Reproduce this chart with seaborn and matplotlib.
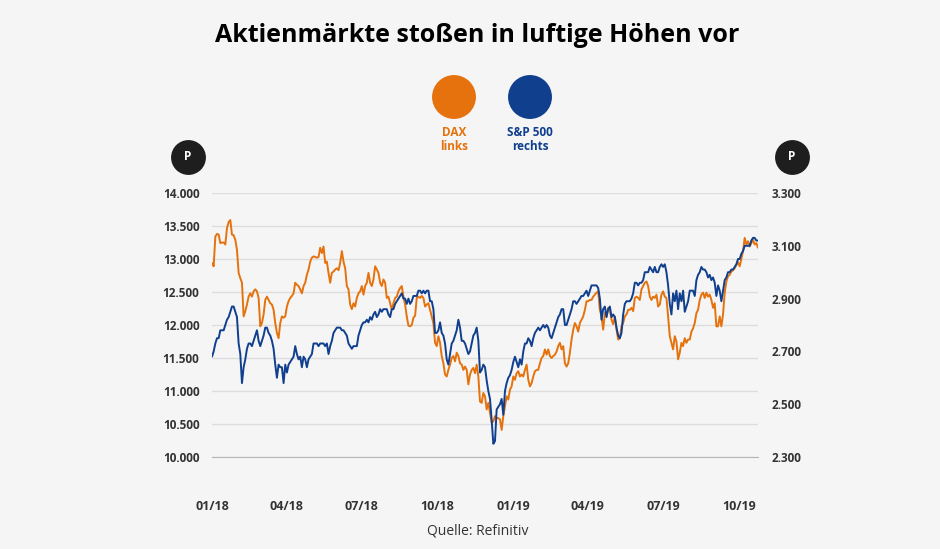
import pandas as pd
import matplotlib
matplotlib.use('Agg')
import matplotlib.pyplot as plt
import matplotlib.dates as mdates
from matplotlib.ticker import FuncFormatter
import seaborn as sns

# DAX (left axis) at roughly 2-day steps
dax = [
    12940, 12890, 13340, 13380, 13370, 13240, 13250, 13250, 13220, 13470,
    13560, 13590, 13370, 13360, 13290, 13140, 12790, 12710, 12640, 12130,
    12210, 12310, 12430, 12480, 12430, 12510, 12540, 12510, 12410, 11980,
    12030, 12160, 12380, 12430, 12380, 12330, 12310, 12230, 12030, 11880,
    11800, 12030, 12130, 12110, 12130, 12280, 12360, 12410, 12440, 12480,
    12640, 12610, 12590, 12540, 12480, 12590, 12640, 12760, 12840, 12960,
    13020, 13040, 13030, 13020,
    13030, 13170, 13090, 13190, 12940, 12960, 12790, 12640, 12790, 12810,
    12840, 12860, 12830, 12940, 13120, 12960, 12860, 12590, 12540, 12310,
    12240, 12330, 12280, 12410, 12480, 12510, 12590, 12460, 12590, 12640,
    12790, 12640, 12590, 12690, 12890, 12840, 12790, 12640, 12590, 12690,
    12640, 12410, 12430, 12330, 12230, 12330, 12410, 12430, 12510, 12560,
    12590, 12430, 12310, 12130, 11990, 11980, 12000, 12110, 12140, 12410,
    12430, 12410, 12440, 12410, 12280, 12310,
    12330, 12230, 12130, 12030, 11730, 11680, 11830, 11730, 11530, 11420,
    11250, 11220, 11320, 11400, 11500, 11530, 11450, 11580, 11530, 11420,
    11400, 11320, 11370, 11320, 11100, 11250, 11320, 11350, 11270, 11400,
    11220, 10840, 10820, 10970, 10920, 10720, 10820, 10670, 10520, 10540,
    10620, 10590, 10590, 10570, 10410, 10620, 10770, 10920, 10870, 11020,
    11070, 11220, 11170, 11270, 11300, 11220, 11250, 11220, 11320, 11400,
    11170, 11070, 11120, 11220, 11300, 11320,
    11320, 11420, 11500, 11530, 11630, 11550, 11630, 11530, 11500, 11530,
    11550, 11600, 11680, 11730, 11630, 11680, 11420, 11370, 11420, 11580,
    11780, 11930, 12030, 11980, 11900, 12030, 12080, 12130, 12230, 12360,
    12360, 12380, 12380, 12430, 12460, 12490, 12510, 12230, 12130, 11930,
    12180, 12130, 12260, 12230, 12080, 12010, 12130, 11930, 11780, 11800,
    11980, 12030, 12130, 12160, 12230, 12230, 12260, 12210, 12410, 12430,
    12410, 12380, 12540, 12590, 12640, 12660,
    12590, 12430, 12380, 12430, 12410, 12460, 12280, 12310, 12460, 12510,
    12430, 12410, 12130, 11830, 11730, 11630, 11830, 11750, 11480, 11580,
    11730, 11680, 11800, 11730, 11780, 11780, 11900, 11950, 12030, 12180,
    12230, 12380, 12460, 12490, 12410, 12490, 12430, 12460, 12380, 12260,
    12330, 11980, 11980, 12130, 11980, 12160, 12490, 12660, 12740, 12760,
    12810, 12830, 12860, 12910, 12950, 12890, 13000, 13120, 13320, 13220,
    13270, 13190, 13240, 13290, 13220, 13240, 13170,
]

# S&P 500 (right axis), same sampling
spx = [
    2680, 2700, 2730, 2750, 2750, 2780, 2780, 2780, 2800, 2820,
    2830, 2850, 2870, 2870, 2850, 2830, 2730, 2690, 2580, 2640,
    2670, 2710, 2730, 2730, 2720, 2740, 2760, 2780, 2740, 2720,
    2740, 2760, 2790, 2790, 2770, 2760, 2740, 2710, 2650, 2600,
    2650, 2640, 2640, 2580, 2650, 2620, 2650, 2660, 2670, 2680,
    2720, 2690, 2670, 2680, 2640, 2680, 2670, 2640, 2670, 2680,
    2690, 2730, 2730, 2730,
    2720, 2730, 2730, 2730, 2720, 2730, 2690, 2720, 2740, 2770,
    2780, 2790, 2790, 2790, 2780, 2780, 2770, 2760, 2730, 2720,
    2710, 2720, 2720, 2720, 2760, 2780, 2800, 2810, 2810, 2820,
    2810, 2830, 2820, 2840, 2850, 2830, 2840, 2860, 2850, 2860,
    2860, 2860, 2840, 2830, 2860, 2860, 2880, 2890, 2900, 2910,
    2920, 2900, 2900, 2880, 2900, 2880, 2890, 2910, 2910, 2910,
    2930, 2930, 2920, 2930, 2920, 2930,
    2930, 2890, 2890, 2860, 2770, 2770, 2780, 2810, 2770, 2760,
    2730, 2670, 2650, 2690, 2730, 2740, 2760, 2780, 2820, 2790,
    2740, 2740, 2730, 2710, 2690, 2700, 2730, 2760, 2770, 2790,
    2740, 2620, 2630, 2650, 2640, 2590, 2550, 2520, 2440, 2350,
    2360, 2480, 2490, 2500, 2520, 2460, 2550, 2580, 2600, 2610,
    2630, 2660, 2680, 2660, 2640, 2670, 2650, 2700, 2730, 2730,
    2750, 2740, 2720, 2750, 2770, 2780,
    2790, 2780, 2790, 2800, 2790, 2800, 2790, 2760, 2750, 2770,
    2790, 2810, 2830, 2840, 2860, 2860, 2800, 2800, 2820, 2840,
    2860, 2890, 2890, 2880, 2890, 2900, 2910, 2910, 2920, 2930,
    2910, 2930, 2950, 2950, 2950, 2950, 2940, 2900, 2820, 2860,
    2870, 2830, 2860, 2870, 2830, 2840, 2830, 2790, 2760, 2750,
    2770, 2840, 2880, 2890, 2890, 2890, 2900, 2920, 2960, 2960,
    2950, 2960, 2960, 2970, 3000, 3000,
    3000, 3020, 3010, 3000, 3020, 3000, 3000, 3020, 3030, 3020,
    3030, 3000, 2950, 2880, 2840, 2920, 2890, 2930, 2860, 2920,
    2890, 2930, 2850, 2870, 2890, 2930, 2930, 2930, 2910, 2970,
    2990, 3000, 3020, 3010, 3010, 3000, 2980, 2990, 2970, 2980,
    2960, 2910, 2950, 2930, 2890, 2930, 2970, 2980, 3000, 3000,
    3010, 3010, 3020, 3030, 3050, 3050, 3070, 3080, 3100, 3100,
    3100, 3100, 3120, 3130, 3130, 3120, 3120,
]

dates = pd.date_range('2018-01-01', '2019-10-24', periods=len(dax))
df = pd.DataFrame({'date': dates, 'dax': dax, 'spx': spx})

dax_ticks = list(range(10000, 14001, 500))
spx_ticks = list(range(2300, 3301, 200))

orange = '#e5720c'
blue = '#103f8e'
txt = '#333333'
bg = '#f5f5f5'

sns.set_style('white')
plt.rcParams['font.family'] = ['Open Sans', 'DejaVu Sans']
plt.rcParams['font.weight'] = 'bold'

fig = plt.figure(figsize=(9.4, 5.49), dpi=100, facecolor=bg)
ax = fig.add_axes([212 / 940, 1 - 457 / 549, 546 / 940, 264 / 549])
ax.set_facecolor(bg)
ax2 = ax.twinx()

sns.lineplot(data=df, x='date', y='dax', ax=ax, color=orange, lw=1.4)
sns.lineplot(data=df, x='date', y='spx', ax=ax2, color=blue, lw=1.4)

dots = lambda v, p: f'{v:,.0f}'.replace(',', '.')
ax.set_ylim(10000, 14000)
ax.set_yticks(dax_ticks)
ax.yaxis.set_major_formatter(FuncFormatter(dots))
ax2.set_ylim(2300, 3300)
ax2.set_yticks(spx_ticks)
ax2.yaxis.set_major_formatter(FuncFormatter(dots))

ax.set_xlim(dates[0], dates[-1])
ax.xaxis.set_major_locator(mdates.MonthLocator(bymonth=[1, 4, 7, 10]))
ax.xaxis.set_major_formatter(mdates.DateFormatter('%m/%y'))

ax.yaxis.grid(True, color='#dddddd', lw=1)
ax.set_axisbelow(True)
for a in (ax, ax2):
    a.set_xlabel('')
    a.set_ylabel('')
    for s in a.spines.values():
        s.set_visible(False)
ax.spines['bottom'].set_visible(True)
ax.spines['bottom'].set_color('#b5b5b5')

ax.tick_params(axis='y', length=0, pad=9, labelsize=8.5, labelcolor=txt)
ax2.tick_params(axis='y', length=0, pad=10, labelsize=8.5, labelcolor=txt)
ax.tick_params(axis='x', direction='in', length=4, width=1, color='#b5b5b5',
               pad=31, labelsize=9, labelcolor=txt)

# overlay in pixel coordinates for title, legend dots and notes
over = fig.add_axes([0, 0, 1, 1])
over.set_xlim(0, 940)
over.set_ylim(549, 0)
over.axis('off')

over.text(477, 35, 'Aktienmärkte stoßen in luftige Höhen vor', ha='center',
          va='center', fontsize=18, color='black')

over.scatter([454, 530], [97, 97], s=1000, c=[orange, blue], linewidths=0)
over.text(454, 139, 'DAX\nlinks', ha='center', va='center', fontsize=8.5,
          color=orange, linespacing=1.1)
over.text(530, 139, 'S&P 500\nrechts', ha='center', va='center', fontsize=8.5,
          color=blue, linespacing=1.1)

over.scatter([188, 792], [157, 157], s=630, c='#1e1e1e', linewidths=0)
for xp in (188, 792):
    over.text(xp, 157, 'P', ha='center', va='center', fontsize=8.5, color='white')

over.text(478, 531, 'Quelle: Refinitiv', ha='center', va='center',
          fontsize=10, color=txt, fontweight='normal')

fig.savefig('out.png', dpi=100, facecolor=bg)
